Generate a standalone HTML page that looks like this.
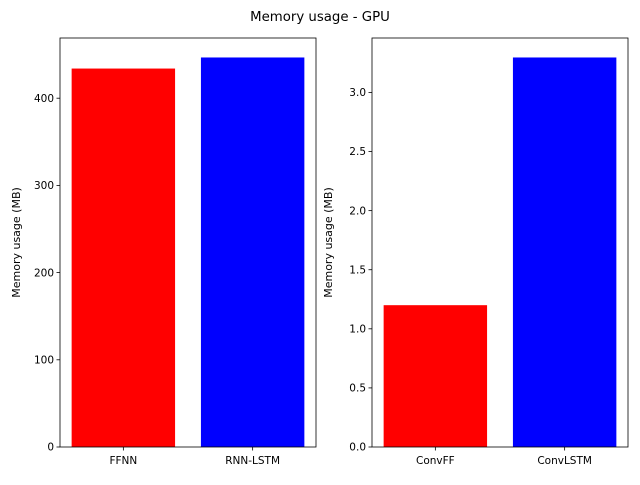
<!DOCTYPE html>
<html><head><meta charset="utf-8"><style>
body{margin:0;background:#fff;font-family:"Liberation Sans","DejaVu Sans",sans-serif}
text{font-family:"DejaVu Sans","Liberation Sans",sans-serif}
</style></head><body>
<svg id="c" width="640" height="480" xmlns="http://www.w3.org/2000/svg">
<rect width="640" height="480" fill="#fff"/>
<text x="320" y="21" font-size="13.3" text-anchor="middle">Memory usage - GPU</text>
</svg>
<script>
const leftCats=["FFNN","RNN-LSTM"];
const leftVals=[434,446.7];
const leftTicks=[0,100,200,300,400];
const rightCats=["ConvFF","ConvLSTM"];
const rightVals=[1.2,3.296];
const rightTicks=[0.0,0.5,1.0,1.5,2.0,2.5,3.0];
const colors=["#ff0000","#0000ff"];
const svg=document.getElementById('c');
const NS="http://www.w3.org/2000/svg";
function mk(tag,attrs,parent){const e=document.createElementNS(NS,tag);for(const k in attrs)e.setAttribute(k,attrs[k]);(parent||svg).appendChild(e);return e;}
function panel(x0,x1,y0,y1,cats,vals,ticks,fmt,prefix){
  const g=mk('g',{});
  
  
  const ymax=Math.max(...vals)*1.05;
  const ys=v=>y1-(v/ymax)*(y1-y0);
  const xmin=-0.4-0.09,xmax=(cats.length-1)+0.4+0.09;
  const xs=v=>x0+(v-xmin)/(xmax-xmin)*(x1-x0);
  cats.forEach((c,i)=>{
    const r=mk('rect',{x:xs(i-0.4),y:ys(vals[i]),width:xs(i+0.4)-xs(i-0.4),height:y1-ys(vals[i]),fill:colors[i%2]},g);
    
    
    mk('line',{x1:xs(i),x2:xs(i),y1:y1,y2:y1+3.5,stroke:'#000','stroke-width':0.8},g);
    const t=mk('text',{x:xs(i),y:y1+17,'font-size':10.5,'text-anchor':'middle'},g);
    t.textContent=c;
    
    
  });
  ticks.forEach(v=>{
    const y=ys(v);
    mk('line',{x1:x0-3.5,x2:x0,y1:y,y2:y,stroke:'#000','stroke-width':0.8},g);
    const t=mk('text',{x:x0-6,y:y+3.7,'font-size':10.5,'text-anchor':'end'},g);
    t.textContent=fmt(v);
    
    
  });
  mk('rect',{x:x0,y:y0,width:x1-x0,height:y1-y0,fill:'none',stroke:'#000','stroke-width':0.8},g);
  const lx=x0-40;
  const yl=mk('text',{x:lx,y:(y0+y1)/2,'font-size':11,'text-anchor':'middle',transform:`rotate(-90 ${lx} ${(y0+y1)/2})`},g);
  yl.textContent='Memory usage (MB)';
  
  
}
panel(60,316,38,447,leftCats,leftVals,leftTicks,v=>String(v),'left');
panel(372,628,38,447,rightCats,rightVals,rightTicks,v=>v.toFixed(1),'right');
</script>
</body></html>
